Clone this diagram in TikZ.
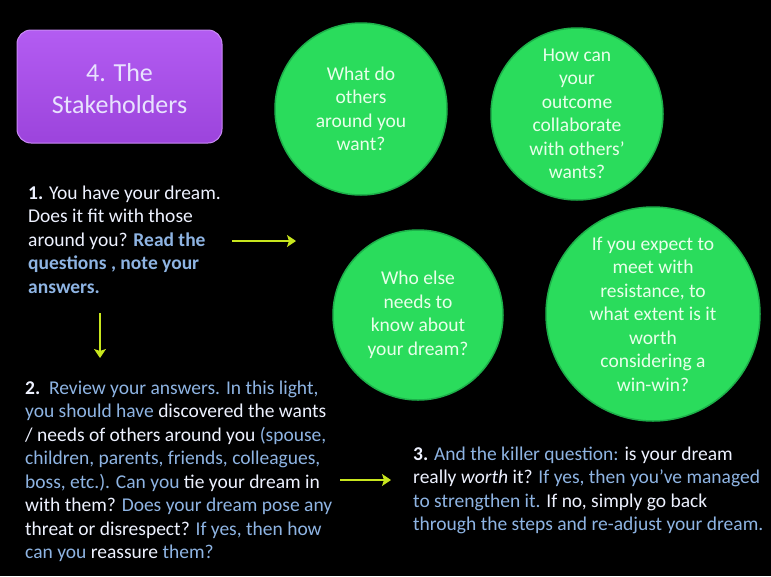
\documentclass[tikz,border=0pt]{standalone}
\usepackage{fontspec}
\setmainfont{Carlito}
\usetikzlibrary{arrows.meta}
\definecolor{wt}{HTML}{EEF2FF}
\definecolor{bl}{HTML}{8EB4E3}
\definecolor{grn}{HTML}{2ADC5C}
\definecolor{grnrim}{HTML}{1DB04A}
\definecolor{gtxt}{HTML}{E8FFEA}
\definecolor{purtop}{HTML}{B35CF2}
\definecolor{purbot}{HTML}{9C44DC}
\definecolor{purrim}{HTML}{C98AF5}
\definecolor{arrc}{HTML}{C8E61E}
\newcommand{\bb}[1]{\textcolor{bl}{#1}}
\begin{document}
\begin{tikzpicture}[x=1pt,y=-1pt,
  ball/.style={circle, fill=grn, draw=grnrim, line width=1.5pt, inner sep=0pt,
    text=gtxt, align=center, font=\fontsize{19.5}{23.5}\selectfont},
  txt/.style={anchor=north west, inner sep=0pt, align=left, text=wt,
    font=\fontsize{19.5}{23.5}\selectfont},
  arr/.style={draw=arrc, line width=2.8pt, -{Stealth[length=9pt,width=12pt,inset=2pt]}}]
\fill[black] (0,0) rectangle (771,576);
\useasboundingbox (0,0) rectangle (771,576);

\node[rounded corners=14pt, top color=purtop, bottom color=purbot, draw=purrim, line width=1pt,
  minimum width=205pt, minimum height=113pt, inner sep=0pt] (title) at (119.5,86.5) {};
\node[text=wt!90!purtop, align=center, inner sep=0pt,
  font=\fontsize{26}{32}\selectfont] (titletext) at (119.5,89) {4. The\\Stakeholders};

\node[ball, minimum size=172pt] (c1) at (361,109) {What do\\others\\around you\\want?};
\node[ball, minimum size=172pt] (c2) at (577,114) {How can\\your\\outcome\\collaborate\\with others'\\wants?};
\node[ball, minimum size=170pt] (c3) at (418,315) {Who else\\needs to\\know about\\your dream?};
\node[ball, minimum size=214pt] (c4) at (653,314) {If you expect to\\meet with\\resistance, to\\what extent is it\\worth\\considering a\\win-win?};

\node[txt] (t1) at (28,185.5) {\textbf{1.} You have your dream.\\
Does it fit with those\\
around you? \textbf{\bb{Read the}}\\
\textbf{\bb{questions , note your}}\\
\textbf{\bb{answers.}}};

\node[txt] (t2) at (25,380.5) {\textbf{2.}\ \ \bb{Review your answers. In this light,}\\
\bb{you should have} discovered the wants\\
/ needs of others around you \bb{(spouse,}\\
\bb{children, parents, friends, colleagues,}\\
\bb{boss, etc.). Can you} tie your dream in\\
with them? \bb{Does your dream pose any}\\
threat or disrespect? \bb{If yes, then how}\\
\bb{can you} reassure \bb{them?}};

\node[txt] (t3) at (413,446.5) {\textbf{3.} \bb{And the killer question:} is your dream\\
really \textit{worth} it? \bb{If yes, then you’ve managed}\\
\bb{to strengthen it.} If no, simply go back\\
\bb{through the steps and re-adjust your dream.}};

\coordinate (a1s) at (232,241);
\coordinate (a1e) at (296,241);
\coordinate (a2s) at (100,313);
\coordinate (a2e) at (100,358);
\coordinate (a3s) at (340,480);
\coordinate (a3e) at (391,480);
\draw[arr] (a1s) -- (a1e);
\draw[arr] (a2s) -- (a2e);
\draw[arr] (a3s) -- (a3e);
\end{tikzpicture}
\end{document}
